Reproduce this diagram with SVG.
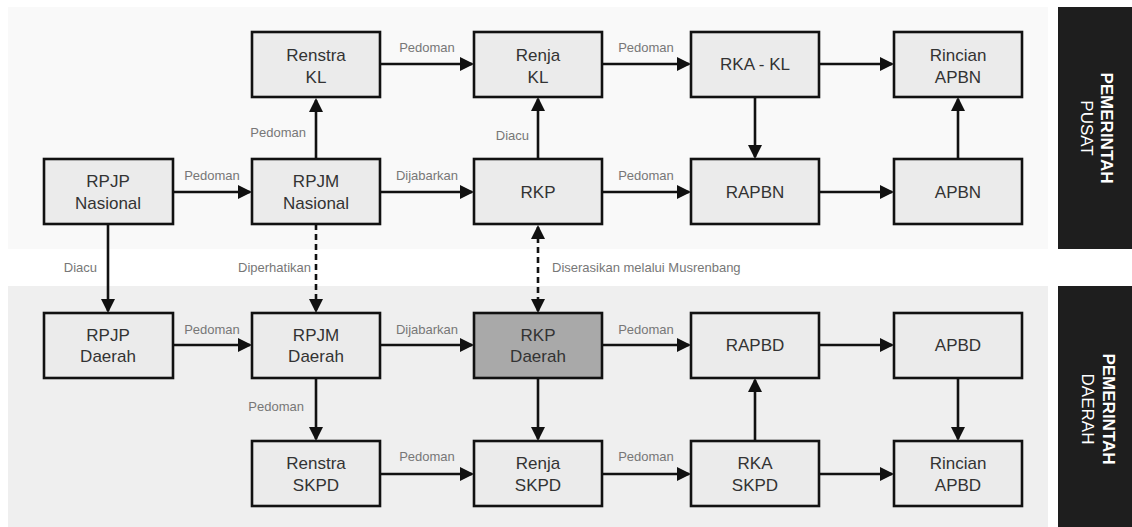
<svg xmlns="http://www.w3.org/2000/svg" width="1132" height="527" viewBox="0 0 1132 527">
<defs>
<marker id="ah" markerUnits="userSpaceOnUse" markerWidth="14" markerHeight="14" viewBox="0 0 14 14" refX="12" refY="7" orient="auto-start-reverse">
<path d="M0,0 L14,7 L0,14 z" fill="#111"/>
</marker>
<style>
.box{fill:#ebebeb;stroke:#111;stroke-width:2.6}
.dark{fill:#a9a9a9}
.t{font-family:"Liberation Sans",Arial,sans-serif;font-size:17px;fill:#333;text-anchor:middle}
.lb{font-family:"Liberation Sans",Arial,sans-serif;font-size:13px;fill:#777}
.c{text-anchor:middle}
.e{text-anchor:end}
.ln{stroke:#111;stroke-width:2.6;fill:none;marker-end:url(#ah)}
.dash{stroke-dasharray:6 4}
.side1{font-family:"Liberation Sans",Arial,sans-serif;font-size:17px;font-weight:bold;fill:#fff;text-anchor:middle}
.side2{font-family:"Liberation Sans",Arial,sans-serif;font-size:17px;fill:#fff;text-anchor:middle}
</style>
</defs>
<rect width="1132" height="527" fill="#fff"/>
<rect id="region-pusat" x="8" y="7" width="1040" height="242" fill="#f9f9f9"/>
<rect id="region-daerah" x="8" y="286" width="1040" height="241" fill="#efefef"/>
<g id="panel-pusat">
<rect x="1058" y="7" width="74" height="242" fill="#1e1e1e"/>
<g transform="translate(1095,128) rotate(90)">
<text class="side1" x="0" y="-6">PEMERINTAH</text>
<text class="side2" x="0" y="14">PUSAT</text>
</g>
</g>
<g id="panel-daerah">
<rect x="1058" y="286" width="74" height="241" fill="#1e1e1e"/>
<g transform="translate(1095,409) rotate(90)">
<text class="side1" x="0" y="-8">PEMERINTAH</text>
<text class="side2" x="0" y="13">DAERAH</text>
</g>
</g>
<g id="connectors">
<path class="ln" d="M173,192 H250"/>
<path class="ln" d="M316,159 V100"/>
<path class="ln" d="M380,64 H472"/>
<path class="ln" d="M602,64 H689"/>
<path class="ln" d="M819,64 H892"/>
<path class="ln" d="M755,97 V157"/>
<path class="ln" d="M380,192 H472"/>
<path class="ln" d="M538,159 V99"/>
<path class="ln" d="M602,192 H689"/>
<path class="ln" d="M819,192 H892"/>
<path class="ln" d="M958,159 V99"/>
<path class="ln" d="M108,224 V311"/>
<path class="ln dash" d="M316,224 V311"/>
<path class="ln dash" d="M538,227 V311" style="marker-start:url(#ah)"/>
<path class="ln" d="M173,345 H250"/>
<path class="ln" d="M380,345 H472"/>
<path class="ln" d="M602,345 H689"/>
<path class="ln" d="M819,345 H892"/>
<path class="ln" d="M958,378 V439"/>
<path class="ln" d="M316,378 V439"/>
<path class="ln" d="M538,378 V439"/>
<path class="ln" d="M380,474 H472"/>
<path class="ln" d="M602,474 H689"/>
<path class="ln" d="M755,441 V380"/>
<path class="ln" d="M819,474 H892"/>
<text class="lb c" x="212" y="180">Pedoman</text>
<text class="lb c" x="427" y="52">Pedoman</text>
<text class="lb c" x="646" y="52">Pedoman</text>
<text class="lb c" x="427" y="180">Dijabarkan</text>
<text class="lb c" x="646" y="180">Pedoman</text>
<text class="lb c" x="212" y="334">Pedoman</text>
<text class="lb c" x="427" y="334">Dijabarkan</text>
<text class="lb c" x="646" y="334">Pedoman</text>
<text class="lb c" x="427" y="461">Pedoman</text>
<text class="lb c" x="646" y="461">Pedoman</text>
<text class="lb e" x="306" y="137">Pedoman</text>
<text class="lb e" x="529" y="140">Diacu</text>
<text class="lb e" x="97" y="272">Diacu</text>
<text class="lb e" x="311" y="272">Diperhatikan</text>
<text class="lb" x="552" y="272">Diserasikan melalui Musrenbang</text>
<text class="lb e" x="304" y="411">Pedoman</text>
</g>
<g id="renstra-kl"><rect class="box" x="252" y="32" width="128" height="65"/><text class="t" x="316" y="61">Renstra</text><text class="t" x="316" y="83">KL</text></g>
<g id="renja-kl"><rect class="box" x="474" y="32" width="128" height="65"/><text class="t" x="538" y="61">Renja</text><text class="t" x="538" y="83">KL</text></g>
<g id="rka-kl"><rect class="box" x="691" y="32" width="128" height="65"/><text class="t" x="755" y="70">RKA - KL</text></g>
<g id="rincian-apbn"><rect class="box" x="894" y="32" width="128" height="65"/><text class="t" x="958" y="61">Rincian</text><text class="t" x="958" y="83">APBN</text></g>
<g id="rpjp-nasional"><rect class="box" x="44" y="159" width="129" height="65"/><text class="t" x="108" y="187">RPJP</text><text class="t" x="108" y="209">Nasional</text></g>
<g id="rpjm-nasional"><rect class="box" x="252" y="159" width="128" height="65"/><text class="t" x="316" y="187">RPJM</text><text class="t" x="316" y="209">Nasional</text></g>
<g id="rkp"><rect class="box" x="474" y="159" width="128" height="65"/><text class="t" x="538" y="198">RKP</text></g>
<g id="rapbn"><rect class="box" x="691" y="159" width="128" height="65"/><text class="t" x="755" y="198">RAPBN</text></g>
<g id="apbn"><rect class="box" x="894" y="159" width="128" height="65"/><text class="t" x="958" y="198">APBN</text></g>
<g id="rpjp-daerah"><rect class="box" x="44" y="313" width="129" height="65"/><text class="t" x="108" y="341">RPJP</text><text class="t" x="108" y="362">Daerah</text></g>
<g id="rpjm-daerah"><rect class="box" x="252" y="313" width="128" height="65"/><text class="t" x="316" y="341">RPJM</text><text class="t" x="316" y="362">Daerah</text></g>
<g id="rkp-daerah"><rect class="box dark" x="474" y="313" width="128" height="65"/><text class="t" x="538" y="341">RKP</text><text class="t" x="538" y="362">Daerah</text></g>
<g id="rapbd"><rect class="box" x="691" y="313" width="128" height="65"/><text class="t" x="755" y="351">RAPBD</text></g>
<g id="apbd"><rect class="box" x="894" y="313" width="128" height="65"/><text class="t" x="958" y="351">APBD</text></g>
<g id="renstra-skpd"><rect class="box" x="252" y="441" width="128" height="65"/><text class="t" x="316" y="469">Renstra</text><text class="t" x="316" y="491">SKPD</text></g>
<g id="renja-skpd"><rect class="box" x="474" y="441" width="128" height="65"/><text class="t" x="538" y="469">Renja</text><text class="t" x="538" y="491">SKPD</text></g>
<g id="rka-skpd"><rect class="box" x="691" y="441" width="128" height="65"/><text class="t" x="755" y="469">RKA</text><text class="t" x="755" y="491">SKPD</text></g>
<g id="rincian-apbd"><rect class="box" x="894" y="441" width="128" height="65"/><text class="t" x="958" y="469">Rincian</text><text class="t" x="958" y="491">APBD</text></g>
</svg>
